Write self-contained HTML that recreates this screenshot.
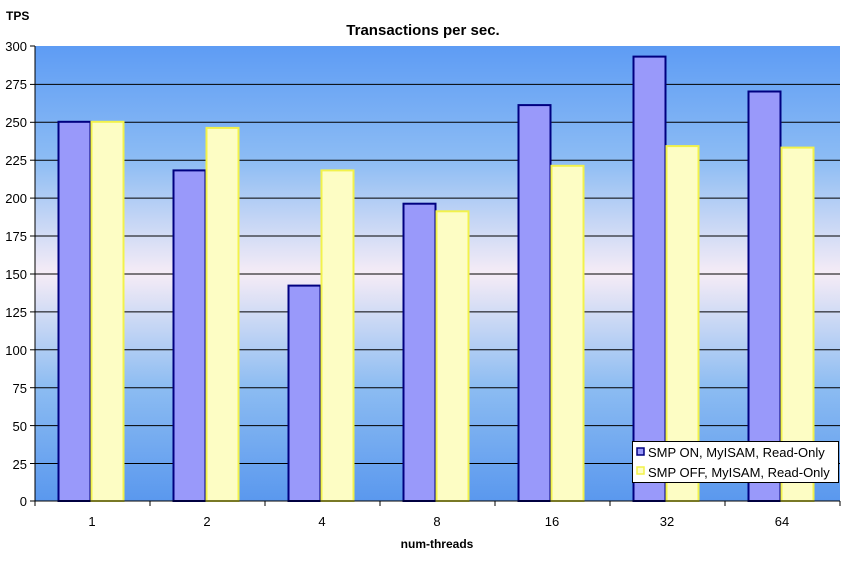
<!DOCTYPE html>
<html><head><style>body{margin:0;background:#fff}svg{display:block}</style></head><body>
<svg width="847" height="566" xmlns="http://www.w3.org/2000/svg" font-family="Liberation Sans, Arial, sans-serif">
<defs><linearGradient id="g" x1="0" y1="0" x2="0" y2="1">
<stop offset="0" stop-color="#5e9cf4"/><stop offset="0.25" stop-color="#8cbcf4"/>
<stop offset="0.5" stop-color="#f6ecf6"/><stop offset="0.75" stop-color="#8cbcf2"/>
<stop offset="1" stop-color="#5a98ee"/></linearGradient></defs>
<rect width="847" height="566" fill="#fff"/>
<rect x="35" y="46" width="805" height="455" fill="url(#g)"/>
<g stroke="#000" stroke-width="1">
<line x1="35" y1="84.4" x2="840" y2="84.4"/><line x1="35" y1="122.3" x2="840" y2="122.3"/>
<line x1="35" y1="160.2" x2="840" y2="160.2"/><line x1="35" y1="198.1" x2="840" y2="198.1"/>
<line x1="35" y1="236" x2="840" y2="236"/><line x1="35" y1="274" x2="840" y2="274"/>
<line x1="35" y1="311.9" x2="840" y2="311.9"/><line x1="35" y1="349.8" x2="840" y2="349.8"/>
<line x1="35" y1="387.7" x2="840" y2="387.7"/><line x1="35" y1="425.6" x2="840" y2="425.6"/>
<line x1="35" y1="463.5" x2="840" y2="463.5"/>
</g>
<g fill="#9999fa" stroke="#000080" stroke-width="2">
<rect x="58.5" y="121.8" width="32" height="379.2"/>
<rect x="173.5" y="170.4" width="32" height="330.6"/>
<rect x="288.5" y="285.6" width="32" height="215.4"/>
<rect x="403.5" y="203.7" width="32" height="297.3"/>
<rect x="518.5" y="105.1" width="32" height="395.9"/>
<rect x="633.5" y="56.6" width="32" height="444.4"/>
<rect x="748.5" y="91.5" width="32" height="409.5"/>
</g>
<g fill="#fdfdc4" stroke="#f2f24a" stroke-width="2">
<rect x="91.5" y="121.8" width="32" height="379.2"/>
<rect x="206.5" y="127.9" width="32" height="373.1"/>
<rect x="321.5" y="170.4" width="32" height="330.6"/>
<rect x="436.5" y="211.3" width="32" height="289.7"/>
<rect x="551.5" y="165.8" width="32" height="335.2"/>
<rect x="666.5" y="146.1" width="32" height="354.9"/>
<rect x="781.5" y="147.6" width="32" height="353.4"/>
</g>
<g stroke="#000"><line x1="35" y1="46" x2="35" y2="501"/><line x1="35" y1="501" x2="840" y2="501"/>
<line x1="30" y1="46" x2="35" y2="46"/><line x1="30" y1="84.4" x2="35" y2="84.4"/><line x1="30" y1="122.3" x2="35" y2="122.3"/><line x1="30" y1="160.2" x2="35" y2="160.2"/><line x1="30" y1="198.1" x2="35" y2="198.1"/><line x1="30" y1="236" x2="35" y2="236"/><line x1="30" y1="274" x2="35" y2="274"/><line x1="30" y1="311.9" x2="35" y2="311.9"/><line x1="30" y1="349.8" x2="35" y2="349.8"/><line x1="30" y1="387.7" x2="35" y2="387.7"/><line x1="30" y1="425.6" x2="35" y2="425.6"/><line x1="30" y1="463.5" x2="35" y2="463.5"/><line x1="30" y1="501" x2="35" y2="501"/>
<line x1="35" y1="501" x2="35" y2="506"/><line x1="150" y1="501" x2="150" y2="506"/><line x1="265" y1="501" x2="265" y2="506"/><line x1="380" y1="501" x2="380" y2="506"/><line x1="495" y1="501" x2="495" y2="506"/><line x1="610" y1="501" x2="610" y2="506"/><line x1="725" y1="501" x2="725" y2="506"/><line x1="840" y1="501" x2="840" y2="506"/>
</g>
<g font-size="13" text-anchor="end" fill="#000">
<text x="27" y="51">300</text><text x="27" y="89">275</text><text x="27" y="127">250</text><text x="27" y="165">225</text><text x="27" y="203">200</text><text x="27" y="241">175</text><text x="27" y="279">150</text><text x="27" y="317">125</text><text x="27" y="355">100</text><text x="27" y="393">75</text><text x="27" y="431">50</text><text x="27" y="469">25</text><text x="27" y="506">0</text>
</g>
<text x="6" y="20" font-size="12" font-weight="bold">TPS</text>
<text x="423" y="35" font-size="15" font-weight="bold" text-anchor="middle">Transactions per sec.</text>
<text x="437" y="548" font-size="12" font-weight="bold" text-anchor="middle">num-threads</text>
<g font-size="13" text-anchor="middle">
<text x="92" y="526">1</text><text x="207" y="526">2</text><text x="322" y="526">4</text><text x="437" y="526">8</text><text x="552" y="526">16</text><text x="667" y="526">32</text><text x="782" y="526">64</text>
</g>
<rect x="632.5" y="441.5" width="206" height="41" fill="#fff" stroke="#000"/>
<rect x="637" y="448" width="7" height="7" fill="#9999fa" stroke="#000080" stroke-width="1.5"/>
<rect x="637" y="467" width="7" height="7" fill="#fdfdc4" stroke="#f2f24a" stroke-width="1.5"/>
<g font-size="13"><text x="648" y="457">SMP ON, MyISAM, Read-Only</text><text x="648" y="477">SMP OFF, MyISAM, Read-Only</text></g>
</svg>
</body></html>
